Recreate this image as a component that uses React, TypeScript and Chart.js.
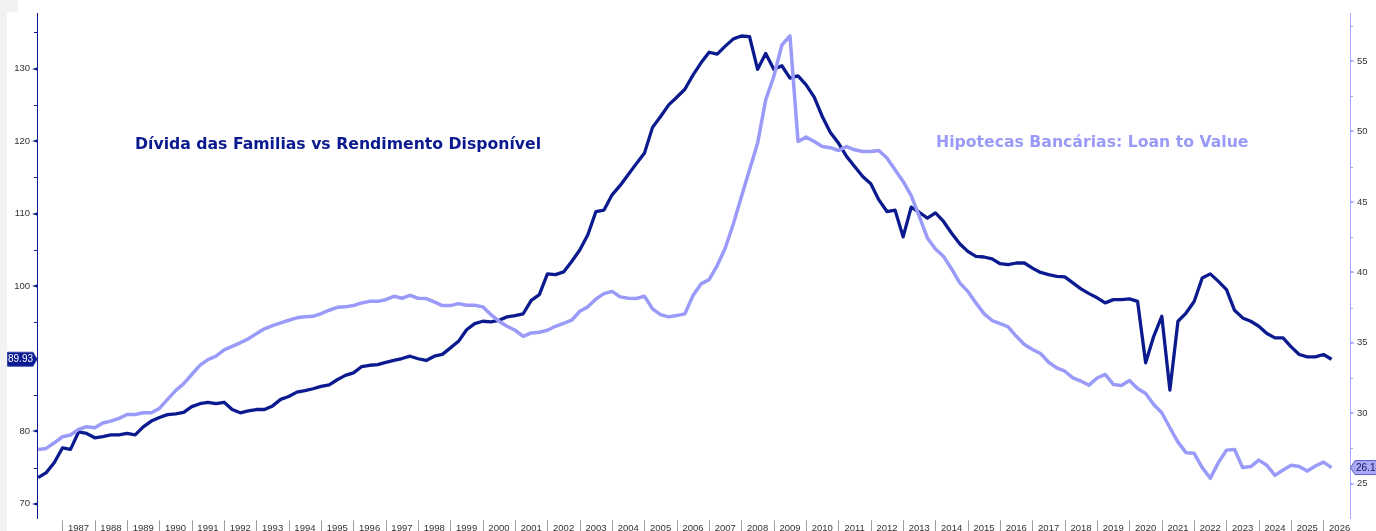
import React, { useEffect, useRef } from 'react';
import { Chart, registerables } from 'chart.js';

Chart.register(...registerables);

// ---- data (quarterly, first observation = FIRST_QUARTER) ----
const FIRST_QUARTER = 1986.25;
const QUARTER_STEP = 0.25;

const DEBT_TO_INCOME = [
  73.6, 74.3, 75.7, 77.7, 77.5, 79.9, 79.7, 79.1, 79.25, 79.5,
  79.5, 79.7, 79.5, 80.6, 81.4, 81.9, 82.3, 82.4, 82.6, 83.4,
  83.8, 84.0, 83.8, 84.0, 83.0, 82.55, 82.8, 83.0, 83.0, 83.5,
  84.4, 84.8, 85.4, 85.6, 85.86, 86.2, 86.4, 87.1, 87.7, 88.06,
  88.9, 89.1, 89.2, 89.5, 89.76, 90.03, 90.35, 90.0, 89.76, 90.35,
  90.6, 91.5, 92.4, 94.0, 94.85, 95.17, 95.08, 95.3, 95.77, 95.95,
  96.2, 98.06, 98.84, 101.7, 101.6, 101.97, 103.4, 105.0, 107.1, 110.3,
  110.5, 112.6, 113.9, 115.4, 116.9, 118.35, 121.9, 123.4, 125.0, 126.06,
  127.16, 129.1, 130.8, 132.26, 132.0, 133.1, 134.1, 134.5, 134.4, 129.9,
  132.1, 129.9, 130.4, 128.7, 129.0, 127.76, 126.06, 123.4, 121.2, 119.73,
  117.9, 116.5, 115.13, 114.13, 111.9, 110.3, 110.5, 106.8, 110.9, 110.2,
  109.4, 110.1, 108.93, 107.3, 105.86, 104.8, 104.1, 104.03, 103.76, 103.1,
  102.97, 103.2, 103.2, 102.5, 101.9, 101.6, 101.36, 101.28, 100.45, 99.63,
  98.98, 98.4, 97.7, 98.15, 98.15, 98.25, 97.92, 89.44, 93.1, 95.85,
  85.67, 95.17, 96.3, 97.9, 101.14, 101.7, 100.67, 99.53, 96.68, 95.63,
  95.17, 94.48, 93.47, 92.88, 92.88, 91.64, 90.58, 90.26, 90.26, 90.58,
  89.93,
];

const LOAN_TO_VALUE = [
  27.43, 27.5, 27.9, 28.33, 28.45, 28.85, 29.04, 28.97, 29.3, 29.44,
  29.63, 29.91, 29.91, 30.03, 30.03, 30.34, 30.98, 31.6, 32.1, 32.75,
  33.4, 33.8, 34.05, 34.5, 34.75, 35.0, 35.28, 35.65, 35.99, 36.22,
  36.41, 36.6, 36.77, 36.85, 36.88, 37.07, 37.31, 37.52, 37.55, 37.64,
  37.83, 37.94, 37.94, 38.06, 38.3, 38.16, 38.37, 38.16, 38.14, 37.9,
  37.64, 37.64, 37.78, 37.66, 37.66, 37.55, 37.0, 36.53, 36.17, 35.89,
  35.46, 35.7, 35.75, 35.89, 36.17, 36.38, 36.6, 37.24, 37.55, 38.11,
  38.49, 38.65, 38.26, 38.16, 38.14, 38.3, 37.41, 37.0, 36.84, 36.93,
  37.05, 38.35, 39.18, 39.48, 40.48, 41.73, 43.45, 45.39, 47.28, 49.17,
  52.24, 53.9, 56.14, 56.78, 49.29, 49.6, 49.29, 48.93, 48.85, 48.65,
  48.93, 48.7, 48.58, 48.58, 48.65, 48.11, 47.28, 46.45, 45.44, 43.97,
  42.44, 41.66, 41.13, 40.24, 39.25, 38.65, 37.83, 37.07, 36.58, 36.36,
  36.13, 35.46, 34.88, 34.52, 34.24, 33.62, 33.22, 32.98, 32.51, 32.27,
  31.99, 32.5, 32.75, 32.04, 31.97, 32.32, 31.76, 31.4, 30.62, 30.03,
  28.97, 27.95, 27.2, 27.15, 26.14, 25.38, 26.49, 27.38, 27.43, 26.14,
  26.21, 26.67, 26.3, 25.59, 25.97, 26.3, 26.21, 25.9, 26.25, 26.53,
  26.14,
];

const YEAR_LABELS = [
  '1987', '1988', '1989', '1990', '1991', '1992', '1993', '1994', '1995', '1996',
  '1997', '1998', '1999', '2000', '2001', '2002', '2003', '2004', '2005', '2006',
  '2007', '2008', '2009', '2010', '2011', '2012', '2013', '2014', '2015', '2016',
  '2017', '2018', '2019', '2020', '2021', '2022', '2023', '2024', '2025', '2026',
];

const LEFT_TICKS = [70, 75, 80, 85, 90, 95, 100, 105, 110, 115, 120, 125, 130, 135];
const RIGHT_TICKS = [25, 27.5, 30, 32.5, 35, 37.5, 40, 42.5, 45, 47.5, 50, 52.5, 55, 57.5];

const TITLE_DEBT = 'Dívida das Familias vs Rendimento Disponível';
const TITLE_LTV = 'Hipotecas Bancárias: Loan to Value';

// ---- styles ----
const NAVY = '#0b1a8e';
const LAVENDER = '#9a9af8';
const LAVENDER_AXIS = '#a6a6fb';
const W = 1376;
const H = 531;

const QUARTER_DATES = DEBT_TO_INCOME.map((_, i) => FIRST_QUARTER + i * QUARTER_STEP);

const decorPlugin = {
  id: 'decor',
  beforeDraw(chart: any) {
    const ctx = chart.ctx;
    ctx.save();
    ctx.fillStyle = '#ffffff';
    ctx.fillRect(0, 0, W, H);
    ctx.fillStyle = '#f1f3f3';
    ctx.fillRect(0, 0, 7, H);
    ctx.fillRect(0, 0, 18, 12);
    ctx.restore();
  },
  beforeDatasetsDraw(chart: any) {
    const ctx = chart.ctx;
    ctx.save();
    ctx.font = 'bold 15.7px "DejaVu Sans"';
    ctx.textBaseline = 'middle';
    ctx.textAlign = 'left';
    ctx.fillStyle = NAVY;
    ctx.fillText(TITLE_DEBT, 135, 145);
    ctx.fillStyle = LAVENDER;
    ctx.fillText(TITLE_LTV, 936, 143);
    ctx.restore();
  },
  afterDraw(chart: any) {
    const ctx = chart.ctx;
    const area = chart.chartArea;
    const yl = chart.scales.yDebt;
    const yr = chart.scales.yLtv;
    const xs = chart.scales.x;
    ctx.save();

    // left axis tick marks
    ctx.fillStyle = NAVY;
    yl.ticks.forEach((t: any) => {
      const p = Math.round(yl.getPixelForValue(t.value));
      if (t.value % 10 === 0) {
        ctx.beginPath();
        ctx.moveTo(area.left - 5, p);
        ctx.lineTo(area.left, p - 1.5);
        ctx.lineTo(area.left, p + 1.5);
        ctx.closePath();
        ctx.fill();
      } else {
        ctx.fillRect(area.left - 3, p, 3, 1);
      }
    });

    // right axis tick marks
    ctx.fillStyle = LAVENDER_AXIS;
    yr.ticks.forEach((t: any) => {
      const p = Math.round(yr.getPixelForValue(t.value));
      if (t.value % 5 === 0) {
        ctx.beginPath();
        ctx.moveTo(area.right + 5, p);
        ctx.lineTo(area.right, p - 1.5);
        ctx.lineTo(area.right, p + 1.5);
        ctx.closePath();
        ctx.fill();
      } else {
        ctx.fillRect(area.right, p, 3, 1);
      }
    });

    // year cells
    ctx.strokeStyle = '#9c9c9c';
    ctx.lineWidth = 1;
    ctx.font = '9.5px "Liberation Sans"';
    ctx.fillStyle = '#333333';
    ctx.textAlign = 'center';
    ctx.textBaseline = 'alphabetic';
    YEAR_LABELS.forEach((lab) => {
      const yv = Number(lab);
      const sep = Math.round(xs.getPixelForValue(yv)) + 0.5;
      ctx.beginPath();
      ctx.moveTo(sep, area.bottom + 2);
      ctx.lineTo(sep, H);
      ctx.stroke();
      ctx.fillText(lab, xs.getPixelForValue(yv + 0.5), area.bottom + 13);
    });

    // last value badges
    const lastDebt = DEBT_TO_INCOME[DEBT_TO_INCOME.length - 1];
    const lastLtv = LOAN_TO_VALUE[LOAN_TO_VALUE.length - 1];
    const pl = yl.getPixelForValue(lastDebt);
    ctx.beginPath();
    ctx.moveTo(7.5, pl - 7);
    ctx.lineTo(33, pl - 7);
    ctx.lineTo(area.left, pl);
    ctx.lineTo(33, pl + 7);
    ctx.lineTo(7.5, pl + 7);
    ctx.closePath();
    ctx.fillStyle = NAVY;
    ctx.fill();
    ctx.strokeStyle = '#3a48b0';
    ctx.stroke();
    ctx.fillStyle = '#ffffff';
    ctx.font = '10px "Liberation Sans"';
    ctx.textAlign = 'center';
    ctx.textBaseline = 'middle';
    ctx.fillText(lastDebt.toFixed(2), 20.5, pl + 0.5);

    const pr = yr.getPixelForValue(lastLtv);
    ctx.beginPath();
    ctx.moveTo(area.right + 0.5, pr);
    ctx.lineTo(area.right + 5, pr - 7);
    ctx.lineTo(W + 2, pr - 7);
    ctx.lineTo(W + 2, pr + 7);
    ctx.lineTo(area.right + 5, pr + 7);
    ctx.closePath();
    ctx.fillStyle = '#a9a9f6';
    ctx.fill();
    ctx.strokeStyle = '#5c5cc8';
    ctx.stroke();
    ctx.fillStyle = '#14146a';
    ctx.textAlign = 'left';
    ctx.fillText(lastLtv.toFixed(2), area.right + 6, pr + 0.5);

    ctx.restore();
  },
};

export default function App() {
  const ref = useRef<HTMLCanvasElement | null>(null);

  useEffect(() => {
    if (!ref.current) return;
    const chart = new Chart(ref.current, {
      type: 'line',
      data: {
        datasets: [
          {
            label: TITLE_LTV,
            data: LOAN_TO_VALUE.map((v, i) => ({ x: QUARTER_DATES[i], y: v })),
            yAxisID: 'yLtv',
            borderColor: LAVENDER,
            borderWidth: 3.5,
            pointRadius: 0,
            tension: 0,
            borderJoinStyle: 'round',
            order: 1,
          },
          {
            label: TITLE_DEBT,
            data: DEBT_TO_INCOME.map((v, i) => ({ x: QUARTER_DATES[i], y: v })),
            yAxisID: 'yDebt',
            borderColor: NAVY,
            borderWidth: 3.3,
            pointRadius: 0,
            tension: 0,
            borderJoinStyle: 'round',
            order: 2,
          },
        ],
      },
      options: {
        animation: false,
        responsive: false,
        devicePixelRatio: 1,
        layout: { padding: { top: 13, left: 0, right: 0, bottom: 0 } },
        plugins: { legend: { display: false }, tooltip: { enabled: false } },
        scales: {
          x: {
            type: 'linear',
            min: 1986.214,
            max: 2026.82,
            grid: { display: false },
            border: { display: false },
            ticks: { display: false },
            afterFit: (s: any) => { s.height = 12; },
          },
          yDebt: {
            type: 'linear',
            position: 'left',
            min: 68.0,
            max: 137.67,
            grid: { display: false, drawTicks: false },
            border: { display: true, color: NAVY, width: 1 },
            afterBuildTicks: (s: any) => { s.ticks = LEFT_TICKS.map((v) => ({ value: v })); },
            ticks: {
              autoSkip: false,
              padding: 7,
              color: '#333333',
              font: { family: 'Liberation Sans', size: 9.5 },
              callback: (v: any) => (Number(v) % 10 === 0 ? String(v) : ''),
            },
            afterFit: (s: any) => { s.width = 37; },
          },
          yLtv: {
            type: 'linear',
            position: 'right',
            min: 22.54,
            max: 58.41,
            grid: { display: false, drawTicks: false },
            border: { display: true, color: LAVENDER_AXIS, width: 1 },
            afterBuildTicks: (s: any) => { s.ticks = RIGHT_TICKS.map((v) => ({ value: v })); },
            ticks: {
              autoSkip: false,
              padding: 7,
              color: '#333333',
              font: { family: 'Liberation Sans', size: 9.5 },
              callback: (v: any) => (Number(v) % 5 === 0 ? String(v) : ''),
            },
            afterFit: (s: any) => { s.width = 26; },
          },
        },
      },
      plugins: [decorPlugin],
    } as any);
    return () => chart.destroy();
  }, []);

  return (
    <div style={{ position: 'fixed', left: 0, top: 0, width: W, height: H, background: '#ffffff' }}>
      <canvas ref={ref} width={W} height={H} style={{ display: 'block', width: W, height: H }} />
    </div>
  );
}
